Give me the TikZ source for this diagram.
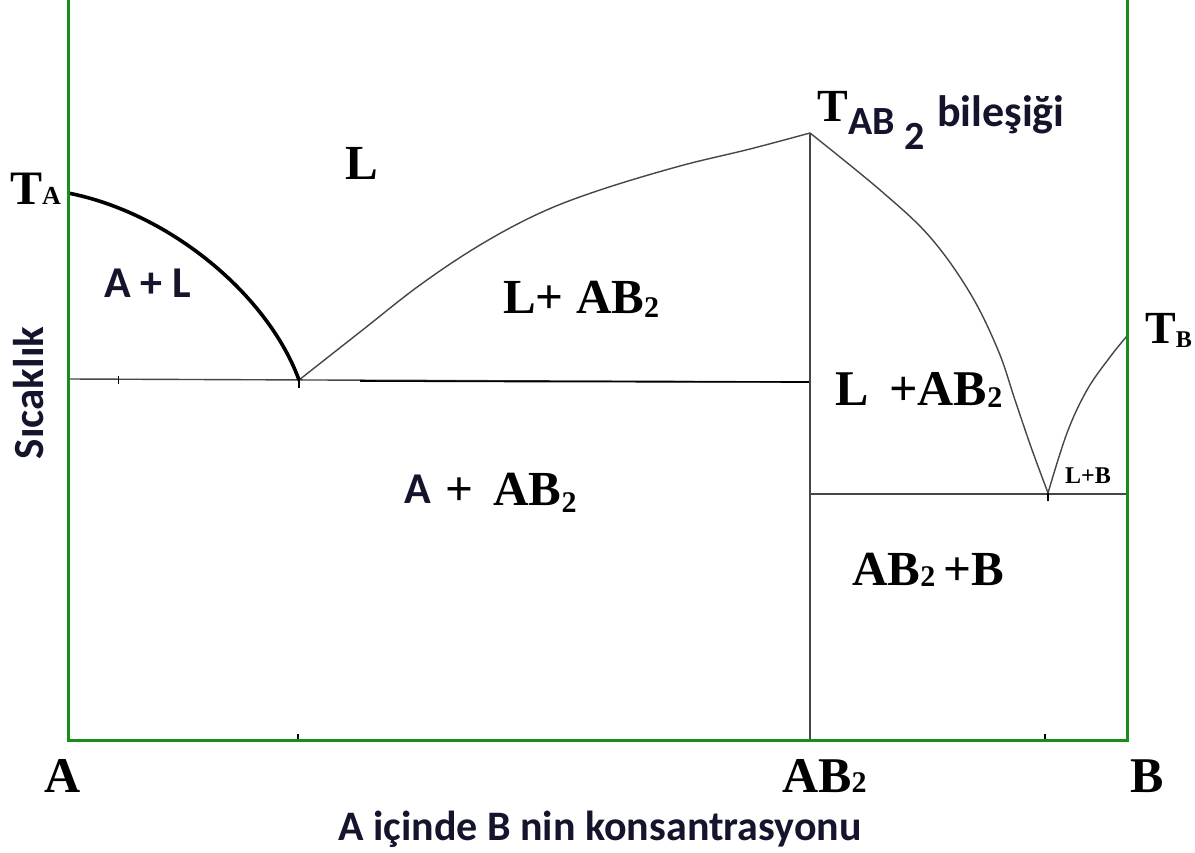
\documentclass[tikz,border=0pt]{standalone}
\usepackage{fontspec}
\setmainfont{Liberation Serif}
\newfontfamily\calfont{Carlito}
\definecolor{axisgreen}{RGB}{25,140,25}
\definecolor{curvegray}{RGB}{70,70,70}
\definecolor{navytext}{RGB}{20,20,45}
\newcommand{\fs}[1]{\fontsize{#1}{#1}\selectfont}
\tikzset{
  axisline/.style={draw=axisgreen, line width=3pt},
  phaseline/.style={draw=curvegray, line width=1.4pt},
  boldcurve/.style={draw=black, line width=3.6pt},
  serlbl/.style={anchor=base west, inner sep=0pt, font=\bfseries\fs{49}},
  sanslbl/.style={anchor=base west, inner sep=0pt, text=navytext, font=\calfont\bfseries\fs{44}},
}
\begin{document}
\begin{tikzpicture}[x=1pt,y=-1pt]
\useasboundingbox (0,0) rectangle (1195,853);
\fill[white] (0,0) rectangle (1195,853);
% key coordinates
\coordinate (tl) at (68,0);
\coordinate (bl) at (68,740);
\coordinate (br) at (1127,740);
\coordinate (tr) at (1127,0);
\coordinate (ta) at (68,193);
\coordinate (eu1) at (299,380);
\coordinate (top) at (810,133);
\coordinate (eu2) at (1048,493);
\coordinate (tb) at (1127,336);
% phase lines
\draw[phaseline] (68,379) -- (810,382);
\draw[draw=black, line width=1.6pt] (360,381) -- (520,381.5) (810,382) -- (520,381.5);
\draw[phaseline] (top) -- (810,740);
\draw[phaseline] (810,494) -- (1127,494);
\draw[phaseline] plot[smooth, tension=0.6] coordinates {(299,380) (360,332) (420,285) (480,245) (540,213) (600,190) (680,166) (750,149) (810,133)};
\draw[phaseline] plot[smooth, tension=0.6] coordinates {(810,133) (880,190) (930,237) (970,293) (998,350) (1015,400) (1031,447) (1048,493)};
\draw[phaseline] plot[smooth, tension=0.6] coordinates {(1048,493) (1067,433) (1087,390) (1110,357) (1127,336)};
\draw[boldcurve] (ta) .. controls (170,213) and (268,295) .. (eu1);
% ticks
\draw[black, line width=1.5pt] (299,378) -- (299,388);
\draw[black, line width=1pt] (118,376) -- (118,384);
\draw[black, line width=2.5pt] (1048,493) -- (1048,501);
\draw[black, line width=2.5pt] (298,734) -- (298,742);
\draw[black, line width=2.5pt] (1045,734) -- (1045,742);
% axes
\draw[axisline] (tl) -- (bl) -- (br) -- (tr);
% labels
\node[serlbl, font=\bfseries\fs{48}] (lTA) at (10,205) {T\fs{26}A};
\node[serlbl] (lL) at (345,180) {L};
\node[sanslbl] (lAL) at (104,298) {A + L};
\node[serlbl] (lLAB) at (503,313) {L+ AB\raisebox{-4pt}{\fs{30}2}};
\node[sanslbl] (lA) at (404,503) {A};
\node[serlbl] (lAAB) at (445,505) {+ \,AB\raisebox{-7pt}{\fs{30}2}};
\node[serlbl, font=\bfseries\fs{50}] (lLAB2) at (835,405) {L \,+AB\raisebox{-2pt}{\fs{30}2}};
\node[serlbl, font=\bfseries\fs{24}] (lLB) at (1065,483) {L+B};
\node[serlbl] (lABB) at (852,585) {AB\raisebox{-1pt}{\fs{30}2}\,+B};
\node[serlbl, font=\bfseries\fs{46}] (lTB) at (1145,343) {T\raisebox{-5pt}{\fs{24}B}};
\node[serlbl, font=\bfseries\fs{46}] (lTAB) at (817,122) {T};
\node[sanslbl, font=\calfont\bfseries\fs{40}] (lTABsub) at (848,135) {AB};
\node[sanslbl, font=\calfont\bfseries\fs{40}] (lTAB2) at (904,150) {2};
\node[sanslbl, font=\calfont\bfseries\fs{44}] (lbil) at (937,127) {bileşiği};
\node[serlbl, font=\bfseries\fs{50}] (xA) at (44,792) {A};
\node[serlbl, font=\bfseries\fs{50}] (xAB) at (782,792) {AB\fs{30}2};
\node[serlbl, font=\bfseries\fs{50}] (xB) at (1130,792) {B};
\node[anchor=base, inner sep=0pt, text=navytext, font=\calfont\bfseries\fs{42}] (xtitle) at (600,840) {A içinde B nin konsantrasyonu};
\node[anchor=base, inner sep=0pt, rotate=90, text=navytext, font=\calfont\bfseries\fs{43}] (ytitle) at (43,393) {Sıcaklık};
\end{tikzpicture}
\end{document}
